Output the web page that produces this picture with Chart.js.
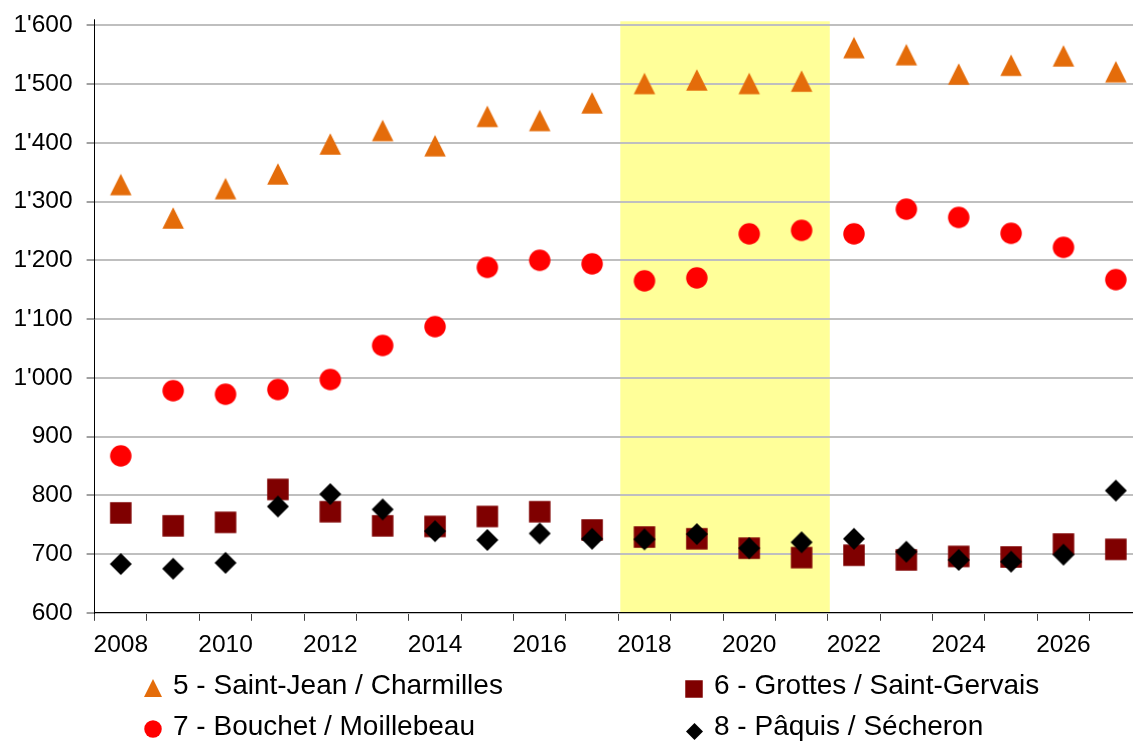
<!DOCTYPE html>
<html><head><meta charset="utf-8">
<script src="https://cdn.jsdelivr.net/npm/chart.js@4/dist/chart.umd.min.js"></script>
<style>
html,body{margin:0;padding:0;background:#fff;overflow:hidden;width:1133px;height:742px;}
#wrap{position:absolute;left:0;top:0;width:1154px;height:742px;}
#c{display:block;width:1154px;height:742px;}
</style></head><body>
<div id="wrap"><canvas id="c" width="1154" height="742"></canvas></div>
<script>
// ---- data ----
const years = ['2008','2009','2010','2011','2012','2013','2014','2015','2016','2017','2018','2019','2020','2021','2022','2023','2024','2025','2026','2027'];
const seriesNames = ['5 - Saint-Jean / Charmilles','6 - Grottes / Saint-Gervais','7 - Bouchet / Moillebeau','8 - Pâquis / Sécheron'];
const stJeanCharmilles = [1329,1272,1322,1347,1398,1421,1395,1445,1438,1468,1501,1507,1501,1505,1562,1550,1517,1532,1548,1521];
const grottesStGervais = [770,748,754,810,772,748,747,764,772,741,729,726,710,694,698,690,696,695,717,708];
const bouchetMoillebeau = [867,978,972,980,997,1055,1087,1188,1200,1194,1165,1170,1245,1251,1245,1287,1273,1246,1222,1167];
const paquisSecheron = [683,675,685,781,802,776,739,724,735,726,725,734,710,720,726,704,690,687,699,808];
const bandStart = '2018';
const bandEnd = '2021';
const yMin = 600, yMax = 1600, yStep = 100;

// ---- styles ----
const FONT = '"Liberation Sans", Arial, sans-serif';
const colors = ['#E46C0A', '#7F0000', '#FF0000', '#000000'];
const shapes = ['triangle', 'square', 'circle', 'diamond'];

function marker(shape, size, color) {
  const s = Math.ceil(size) + 2;
  const c = document.createElement('canvas');
  c.width = s; c.height = s;
  const g = c.getContext('2d');
  g.fillStyle = color;
  const o = (s - size) / 2;
  g.beginPath();
  if (shape === 'triangle') { g.moveTo(s / 2, o); g.lineTo(o + size, o + size); g.lineTo(o, o + size); }
  else if (shape === 'circle') { g.arc(s / 2, s / 2, size / 2, 0, Math.PI * 2); }
  else if (shape === 'square') { g.rect(o, o, size, size); }
  else { g.moveTo(s / 2, o); g.lineTo(o + size, s / 2); g.lineTo(s / 2, o + size); g.lineTo(o, s / 2); }
  g.closePath();
  g.fill();
  return c;
}
const plotSizes = [21.5, 21.5, 21.5, 22];
const legendSizes = [18, 17.5, 17.5, 17];
const plotMarkers = shapes.map((sh, i) => marker(sh, plotSizes[i], colors[i]));
const legendMarkers = shapes.map((sh, i) => marker(sh, legendSizes[i], colors[i]));

function fmt(v) {
  const s = String(Math.round(v));
  return s.length > 3 ? s.slice(0, s.length - 3) + "'" + s.slice(-3) : s;
}

const bgPlugin = {
  id: 'bg',
  beforeDraw(chart) {
    const { ctx, chartArea: a, scales: { x } } = chart;
    ctx.save();
    ctx.fillStyle = '#fff';
    ctx.fillRect(0, 0, chart.width, chart.height);
    const half = (x.getPixelForValue(1) - x.getPixelForValue(0)) / 2;
    const x0 = x.getPixelForValue(years.indexOf(bandStart)) - half + 2;
    const x1 = x.getPixelForValue(years.indexOf(bandEnd)) + half + 2;
    ctx.fillStyle = '#FFFF99';
    ctx.fillRect(x0, a.top - 4, x1 - x0, a.bottom - a.top + 4);
    ctx.restore();
  },
  afterDraw(chart) {
    const { ctx, chartArea: a } = chart;
    ctx.save();
    const lx = Math.round(a.left - 0.5) + 0.5;
    ctx.strokeStyle = '#000'; ctx.lineWidth = 1;
    ctx.beginPath(); ctx.moveTo(lx, a.top - 6); ctx.lineTo(lx, a.top + 1); ctx.stroke();
    const pos = [
      { mx: 152.5, my: 688, tx: 173, ty: 686.5 },
      { mx: 694, my: 689, tx: 714, ty: 686.5 },
      { mx: 152.5, my: 729, tx: 173, ty: 727.5 },
      { mx: 694, my: 731, tx: 714, ty: 727.5 }
    ];
    ctx.font = '28px ' + FONT;
    ctx.fillStyle = '#000';
    ctx.textBaseline = 'middle';
    ctx.textAlign = 'left';
    seriesNames.forEach((name, i) => {
      const m = legendMarkers[i];
      const p = pos[i];
      ctx.drawImage(m, Math.round(p.mx - m.width / 2), Math.round(p.my - m.height / 2));
      ctx.fillText(name, p.tx, p.ty);
    });
    ctx.restore();
  }
};

const seriesData = [stJeanCharmilles, grottesStGervais, bouchetMoillebeau, paquisSecheron];
const datasets = seriesData.map((d, i) => ({
  label: seriesNames[i],
  data: d,
  showLine: false,
  pointStyle: plotMarkers[i],
  pointRadius: 11,
  pointHoverRadius: 11,
  backgroundColor: colors[i],
  borderColor: colors[i],
  order: 4 - i
}));

Chart.defaults.font.family = FONT;
Chart.defaults.font.size = 24.5;
Chart.defaults.color = '#000';

new Chart(document.getElementById('c'), {
  type: 'line',
  data: { labels: years, datasets },
  plugins: [bgPlugin],
  options: {
    responsive: false,
    devicePixelRatio: 1,
    animation: false,
    events: [],
    layout: { padding: { top: 25.3, left: 0, right: 0, bottom: 0 } },
    plugins: { legend: { display: false }, tooltip: { enabled: false } },
    scales: {
      x: {
        type: 'category',
        offset: true,
        afterFit(s) { s.height = 742 - 612.8; s.paddingLeft = 0; s.paddingRight = 0; },
        grid: { display: true, drawOnChartArea: false, drawTicks: true, tickLength: 8, offset: true, tickColor: '#404040', tickWidth: 1 },
        border: { display: true, color: '#000', width: 1 },
        ticks: {
          autoSkip: false, maxRotation: 0, minRotation: 0, padding: 10,
          font: { size: 24.5 },
          callback(v, i) { return i % 2 === 0 ? years[i] : ''; }
        }
      },
      y: {
        min: yMin, max: yMax,
        afterFit(s) { s.width = 94.6; s.paddingTop = 0; s.paddingBottom = 0; },
        grid: { color: '#BFBFBF', lineWidth: 2, drawTicks: true, tickLength: 8, tickColor: '#404040', tickWidth: 1 },
        border: { display: true, color: '#000', width: 1 },
        ticks: { stepSize: yStep, padding: 14, font: { size: 24.5 }, callback: (v) => fmt(v) }
      }
    }
  }
});
</script>
</body></html>
